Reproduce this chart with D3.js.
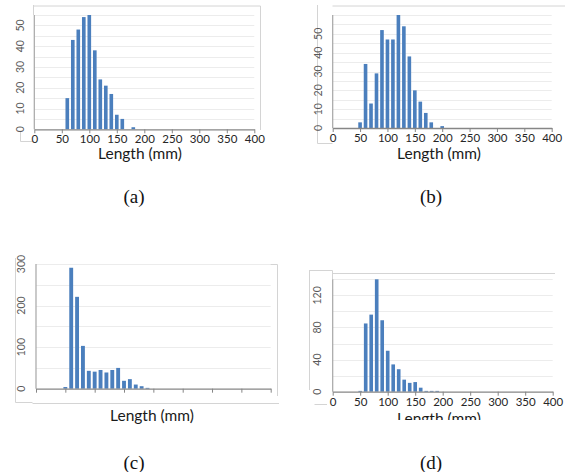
<!DOCTYPE html>
<html>
<head>
<meta charset="utf-8">
<script src="https://cdn.jsdelivr.net/npm/d3@7"></script>
<style>
  body { margin: 0; background: #fff; }
  svg { display: block; }
</style>
</head>
<body>
<div id="chart"></div>
<script>
// bin centres (mm), shared by all four histograms
const bins = [50, 60, 70, 80, 90, 100, 110, 120, 130, 140, 150, 160, 170, 180, 190, 200];

// counts per bin
const countsA = [0, 15, 43, 48, 54, 55, 38, 24, 21, 17, 7, 5, 0, 1, 0, 0];
const countsB = [3, 34, 13, 29, 52, 47, 47, 60, 54, 38, 20, 14, 8, 3, 0, 1];
const countsC = [4, 291, 221, 103, 43, 41, 45, 39, 45, 50, 19, 23, 10, 6, 2, 0];
const countsD = [1, 85, 96, 140, 89, 51, 34, 28, 15, 11, 12, 5, 1, 1, 1, 0];

// tick labels
const xTicks = [0, 50, 100, 150, 200, 250, 300, 350, 400];
const yTicksA = [0, 10, 20, 30, 40, 50];
const yTicksB = [0, 10, 20, 30, 40, 50];
const yTicksC = [0, 100, 200, 300];
const yTicksD = [0, 40, 80, 120];

const panelLabels = ["(a)", "(b)", "(c)", "(d)"];
const axisTitle = "Length (mm)";

const W = 565, H = 472;
const barColor = "#4b7fbd";
const frameColor = "#d4d4d4";

const svg = d3.select("#chart").append("svg")
    .attr("width", W)
    .attr("height", H);

// layout of each small chart
const panels = [
    { counts: countsA, yTicks: yTicksA, yMax: 55, grid: 5, x0: 34.3, x1: 254.3, y0: 129.3, yTop: 15,
      xLabels: true, yLabelOff: 13.5, titleX: 140, titleY: 159, label: [134, 203],
      frame: ["M33.5,5V15", "M33.5,6H260.5V130", "M20.5,132V141.5H33.5"] },
    { counts: countsB, yTicks: yTicksB, yMax: 60, grid: 5, x0: 332.7, x1: 551.7, y0: 128, yTop: 15,
      xLabels: true, yLabelOff: 14.5, titleX: 439, titleY: 159, label: [431, 203],
      frame: ["M317.5,5V143.5H332.5", "M332.5,6H565"] },
    { counts: countsC, yTicks: yTicksC, yMax: 300, grid: 50, x0: 36, x1: 270.7, y0: 388.7, yTop: 264,
      xLabels: false, yLabelOff: 14.5, titleX: 152, titleY: 421, label: [134, 469],
      frame: ["M15.5,258V402.5H32.5", "M32.5,403.5H279", "M36,264.5H277.5V396"] },
    { counts: countsD, yTicks: yTicksD, yMax: 140, grid: 20, x0: 332.7, x1: 552.7, y0: 391.7, yTop: 279.3,
      xLabels: true, yLabelOff: 15, titleX: 439, titleY: 424, label: [431, 469],
      frame: ["M309.5,270V390", "M309.5,270.5H332.5V279", "M332.5,273.5H555", "M314.5,404.5H327"] }
];

// keep panel (d)'s title inside the strip the picture shows
svg.append("defs").append("clipPath")
    .attr("id", "clip-d")
    .append("rect")
    .attr("x", 280).attr("y", 250).attr("width", 285).attr("height", 170);

panels.forEach((p, i) => {
    const g = svg.append("g").attr("class", "panel");

    const x = d3.scaleLinear().domain([0, 400]).range([p.x0, p.x1]);
    const y = d3.scaleLinear().domain([0, p.yMax]).range([p.y0, p.yTop]);

    // faint chart-area border pieces
    g.selectAll(".frame")
        .data(p.frame)
        .join("path")
        .attr("class", "frame")
        .attr("d", d => d)
        .attr("fill", "none")
        .attr("stroke", frameColor)
        .attr("stroke-width", 1);

    // horizontal gridlines
    g.selectAll(".grid")
        .data(d3.range(p.grid, p.yMax + 0.001, p.grid))
        .join("line")
        .attr("class", "grid")
        .attr("x1", p.x0)
        .attr("x2", p.x1)
        .attr("y1", d => Math.round(y(d)) + 0.5)
        .attr("y2", d => Math.round(y(d)) + 0.5)
        .attr("stroke", "#ececec")
        .attr("stroke-width", 1);

    // y axis line
    g.append("line")
        .attr("x1", p.x0).attr("x2", p.x0)
        .attr("y1", p.yTop).attr("y2", p.y0)
        .attr("stroke", "#a6a6a6")
        .attr("stroke-width", 1.2);

    // bars
    const bw = (x(10) - x(0)) * 0.66;
    g.selectAll(".bar")
        .data(bins.map((b, j) => ({ bin: b, n: p.counts[j] })).filter(d => d.n > 0))
        .join("rect")
        .attr("class", "bar")
        .attr("x", d => x(d.bin) - bw / 2)
        .attr("width", bw)
        .attr("y", d => y(d.n))
        .attr("height", d => y(0) - y(d.n))
        .attr("fill", barColor);

    // x axis
    const xAxis = d3.axisBottom(x)
        .tickValues(xTicks)
        .tickSize(4)
        .tickSizeOuter(0)
        .tickPadding(2);
    if (!p.xLabels) xAxis.tickFormat(() => "");

    const ax = g.append("g")
        .attr("transform", `translate(0,${p.y0})`)
        .call(xAxis);
    ax.select(".domain").attr("stroke", "#868686").attr("stroke-width", 1.3);
    ax.selectAll(".tick line").attr("stroke", "#868686");
    ax.selectAll(".tick text")
        .attr("fill", "#262626")
        .style("font-family", "Lato, 'Open Sans', sans-serif")
        .style("font-size", "11.5px");

    // rotated y tick labels
    g.selectAll(".ylab")
        .data(p.yTicks)
        .join("text")
        .attr("class", "ylab")
        .attr("transform", d => `translate(${p.x0 - p.yLabelOff},${y(d)}) rotate(-90)`)
        .attr("dy", "0.35em")
        .attr("text-anchor", "middle")
        .attr("fill", "#595959")
        .style("font-family", "Lato, 'Open Sans', sans-serif")
        .style("font-size", "10.5px")
        .text(d => d);

    // axis title
    const title = g.append("text")
        .attr("x", p.titleX)
        .attr("y", p.titleY)
        .attr("text-anchor", "middle")
        .attr("fill", "#1a1a1a")
        .style("font-family", "Lato, 'Open Sans', sans-serif")
        .style("font-size", "15.5px")
        .text(axisTitle);
    if (i === 3) title.attr("clip-path", "url(#clip-d)");

    // sub-figure label
    svg.append("text")
        .attr("x", p.label[0])
        .attr("y", p.label[1])
        .attr("text-anchor", "middle")
        .attr("fill", "#111")
        .style("font-family", "'Liberation Serif', 'Times New Roman', serif")
        .style("font-size", "19px")
        .text(panelLabels[i]);
});
</script>
</body>
</html>
